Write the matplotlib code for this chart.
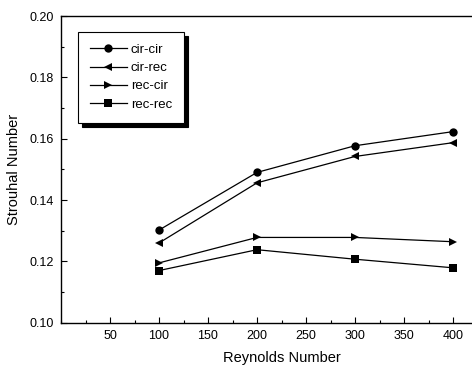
import matplotlib
matplotlib.use("Agg")
import matplotlib.pyplot as plt
from matplotlib.ticker import MultipleLocator

plt.rcParams['font.family'] = ['Liberation Sans', 'DejaVu Sans']

reynolds = [100, 200, 300, 400]
cir_cir = [0.1302, 0.1490, 0.1577, 0.1623]
cir_rec = [0.1260, 0.1456, 0.1542, 0.1587]
rec_cir = [0.1195, 0.1278, 0.1278, 0.1264]
rec_rec = [0.1170, 0.1238, 0.1207, 0.1179]

series = [
    ("cir-cir", cir_cir, "o"),
    ("cir-rec", cir_rec, "<"),
    ("rec-cir", rec_cir, ">"),
    ("rec-rec", rec_rec, "s"),
]

W, H = 472, 367
fig = plt.figure(figsize=(W / 100, H / 100), dpi=100)
ax = fig.add_axes([61 / W, 44.3 / H, 441 / W, 306.7 / H])

for name, vals, m in series:
    ax.plot(reynolds, vals, color="black", lw=0.9, marker=m, markersize=6,
            markeredgewidth=0, label=name)

ax.set_xlim(0, 450)
ax.set_ylim(0.10, 0.20)
ax.xaxis.set_minor_locator(MultipleLocator(25))
ax.yaxis.set_minor_locator(MultipleLocator(0.01))
ax.set_xticks([50, 100, 150, 200, 250, 300, 350, 400])
ax.set_xticklabels(["50", "100", "150", "200", "250", "300", "350", "400"])
ax.set_yticks([0.10, 0.12, 0.14, 0.16, 0.18, 0.20])
ax.set_yticklabels(["0.10", "0.12", "0.14", "0.16", "0.18", "0.20"])
ax.tick_params(which="both", direction="in", labelsize=9, width=0.8)
ax.tick_params(which="major", length=4, pad=5)
ax.tick_params(which="minor", length=2.5)
for s in ax.spines.values():
    s.set_linewidth(1.0)

ax.set_xlabel("Reynolds Number", fontsize=10.5, labelpad=7)
ax.set_ylabel("Strouhal Number", fontsize=10.5, labelpad=6)

leg = ax.legend(loc="upper left", bbox_to_anchor=(17 / 441, 1 - 16 / 306.7),
                fontsize=9.5, frameon=True, fancybox=False, edgecolor="black",
                shadow={"ox": 3, "oy": -3, "color": "black", "alpha": 1},
                handlelength=2.8, handletextpad=0.3, labelspacing=0.45,
                borderpad=0.9, borderaxespad=0)
leg.get_frame().set_linewidth(0.8)

fig.savefig("out.png", dpi=100)
